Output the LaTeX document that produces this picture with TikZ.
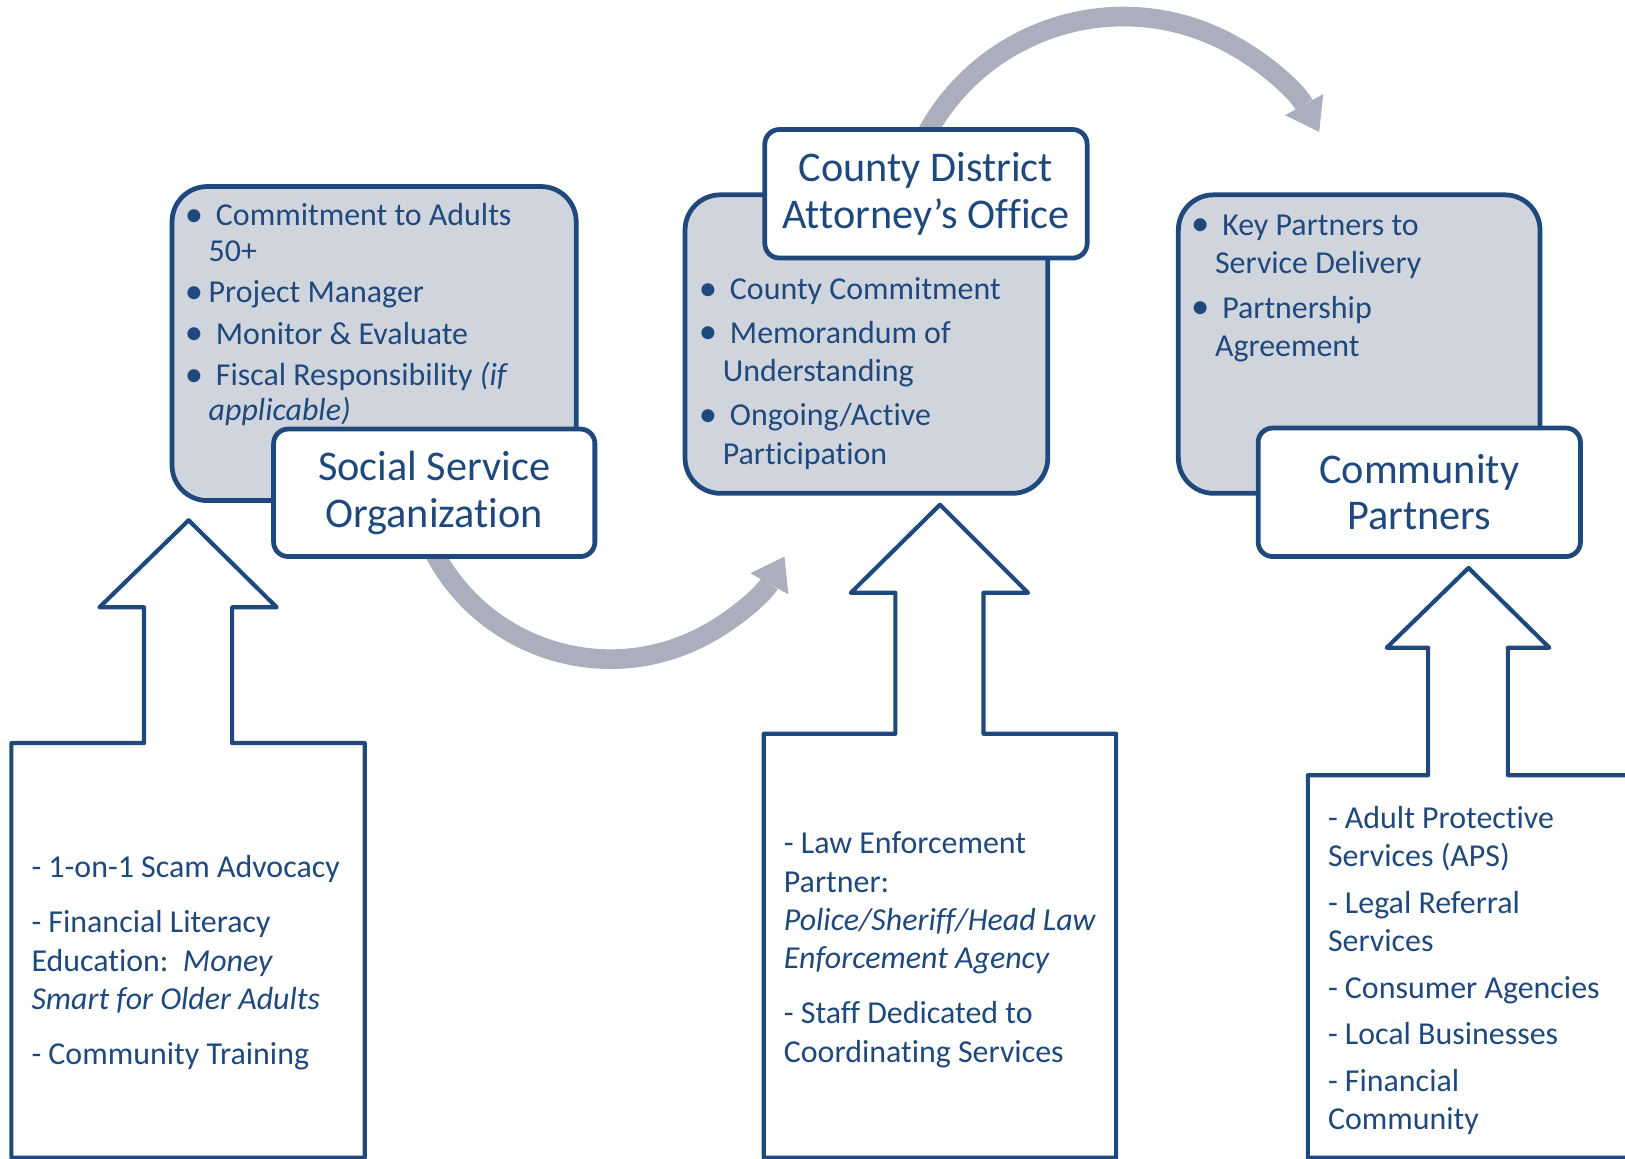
\documentclass[tikz,border=0pt]{standalone}
\usepackage{fontspec}
\setmainfont{Carlito}[Ligatures={NoCommon}]
\usetikzlibrary{arrows.meta,calc,fit}
\definecolor{navy}{RGB}{31,73,125}
\definecolor{boxgray}{RGB}{208,212,221}
\definecolor{arcgray}{RGB}{171,175,189}
\begin{document}
\begin{tikzpicture}[x=0.5pt,y=-0.5pt,
  graybox/.style={draw=navy,line width=2.3pt,fill=boxgray,rounded corners=17pt,inner sep=0pt},
  titlebox/.style={draw=navy,line width=2.3pt,fill=white,rounded corners=7pt,inner sep=0pt},
  titletext/.style={text=navy,inner sep=0pt,align=center,anchor=center,font=\fontsize{20.4}{22.5}\selectfont},
  callout/.style={draw=navy,line width=2pt,fill=white,line join=round},
  listtext/.style={text=navy,inner sep=0pt,anchor=base west},
  bigarrow/.style={draw=arcgray,line width=9.5pt,-{Triangle[length=15pt,width=21pt,line width=0pt]}}
]
\useasboundingbox (0,0) rectangle (1568,1118);
\newcommand{\bul}{\makebox[11.5pt][l]{\raisebox{-0.3pt}{\scalebox{1.15}{\textbullet}}}}
% curved arrows
\coordinate (c1) at (589,444);
\coordinate (c2) at (1084,232);
\draw[bigarrow] ($(c1)+(155:192)$) arc[start angle=155,end angle=29,radius=192];
\draw[bigarrow] ($(c2)+(205:216)$) arc[start angle=205,end angle=331,radius=216];
% gray boxes
\node[graybox,fit={(166,180) (556,483)}] (g1) {};
\node[graybox,fit={(661,188) (1011,476)}] (g2) {};
\node[graybox,fit={(1137,188) (1486,476)}] (g3) {};
% lists
\node[listtext,font=\fontsize{15.4}{17}\selectfont] (l1) at (178,218) {\begin{tabular}[t]{@{}l@{}l@{}}
\bul&\ Commitment to Adults\\
&50+\\[3pt]
\bul&Project Manager\\[3pt]
\bul&\ Monitor \& Evaluate\\[3pt]
\bul&\ Fiscal Responsibility \textit{(if}\\
&\textit{applicable)}
\end{tabular}};
\node[listtext,font=\fontsize{15.4}{18.5}\selectfont] (l2) at (674,289) {\begin{tabular}[t]{@{}l@{}l@{}}
\bul&\ County Commitment\\[2.5pt]
\bul&\ Memorandum of\\
&Understanding\\[3pt]
\bul&\ Ongoing/Active\\
&Participation
\end{tabular}};
\node[listtext,font=\fontsize{15.4}{18.5}\selectfont] (l3) at (1149,227) {\begin{tabular}[t]{@{}l@{}l@{}}
\bul&\ Key Partners to\\
&Service Delivery\\[3pt]
\bul&\ Partnership\\
&Agreement
\end{tabular}};
% title boxes
\node[titlebox,fit={(264,414) (574,537)}] (t1) {};
\node[titletext] at (t1) {Social Service\\Organization};
\node[titlebox,fit={(738,125) (1049,249)}] (t2) {};
\node[titletext] at (t2) {County District\\Attorney’s Office};
\node[titlebox,fit={(1214,413) (1525,537)}] (t3) {};
\node[titletext] at (t3) {Community\\Partners};
% block arrows
\draw[callout] (11,1117) -- (11,717) -- (139,717) -- (139,586) -- (96,586) -- (182,502) -- (267,586) -- (224,586) -- (224,717) -- (352,717) -- (352,1117) -- cycle;
\draw[callout] (737,1117) -- (737,708) -- (864,708) -- (864,572) -- (821,572) -- (907,487) -- (992,572) -- (949,572) -- (949,708) -- (1077,708) -- (1077,1117) -- cycle;
\draw[callout] (1262,1117) -- (1262,748) -- (1378,748) -- (1378,625) -- (1338,625) -- (1417,548) -- (1495,625) -- (1455,625) -- (1455,748) -- (1600,748) -- (1600,1117) -- cycle;
% bottom texts
\node[listtext,font=\fontsize{15.4}{18.5}\selectfont] (b1) at (30,847) {\begin{tabular}[t]{@{}l@{}}
- 1-on-1 Scam Advocacy\\[8pt]
- Financial Literacy\\
Education:\ \ \textit{Money}\\
\textit{Smart for Older Adults}\\[8pt]
- Community Training
\end{tabular}};
\node[listtext,font=\fontsize{15.4}{18.5}\selectfont] (b2) at (756,824) {\begin{tabular}[t]{@{}l@{}}
- Law Enforcement\\
Partner:\\
\textit{Police/Sheriff/Head Law}\\
\textit{Enforcement Agency}\\[8pt]
- Staff Dedicated to\\
Coordinating Services
\end{tabular}};
\node[listtext,font=\fontsize{15.4}{18.5}\selectfont] (b3) at (1281,799) {\begin{tabular}[t]{@{}l@{}}
- Adult Protective\\
Services (APS)\\[4pt]
- Legal Referral\\
Services\\[4pt]
- Consumer Agencies\\[4pt]
- Local Businesses\\[4pt]
- Financial\\
Community
\end{tabular}};
\end{tikzpicture}
\end{document}
